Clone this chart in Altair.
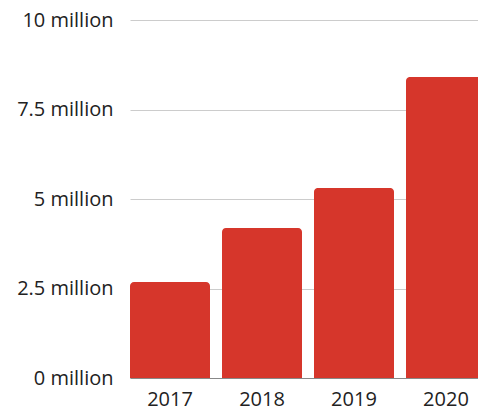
import altair as alt
import pandas as pd

years = ["2017", "2018", "2019", "2020"]
values = [2.68, 4.19, 5.31, 8.41]  # millions
y_ticks = [0, 2.5, 5, 7.5, 10]

df = pd.DataFrame({"year": years, "value": values})

FONT = "Open Sans"

chart = alt.Chart(df).mark_bar(
    color="#d6362b", cornerRadiusTopLeft=4, cornerRadiusTopRight=4
).encode(
    x=alt.X("year:N", sort=years,
            scale=alt.Scale(range=[0, 356], paddingInner=0.13, paddingOuter=0),
            axis=alt.Axis(title=None, labelAngle=0, ticks=False, domain=True,
                          domainColor="#888888", domainWidth=1,
                          labelFont=FONT, labelFontSize=20, labelColor="#222222",
                          labelPadding=11)),
    y=alt.Y("value:Q", scale=alt.Scale(domain=[0, 10], nice=False),
            axis=alt.Axis(title=None, values=y_ticks, ticks=False, domain=False,
                          gridColor="#cccccc", gridWidth=1,
                          labelExpr="datum.value + ' million'",
                          labelFont=FONT, labelFontSize=20, labelColor="#222222",
                          labelPadding=17)),
).properties(
    width=348, height=358,
    autosize=alt.AutoSizeParams(type="none"),
    padding={"left": 130, "top": 20, "right": 0, "bottom": 32},
).configure_view(stroke=None)

chart.save("out.html", embed_options={"renderer": "svg", "actions": False})
